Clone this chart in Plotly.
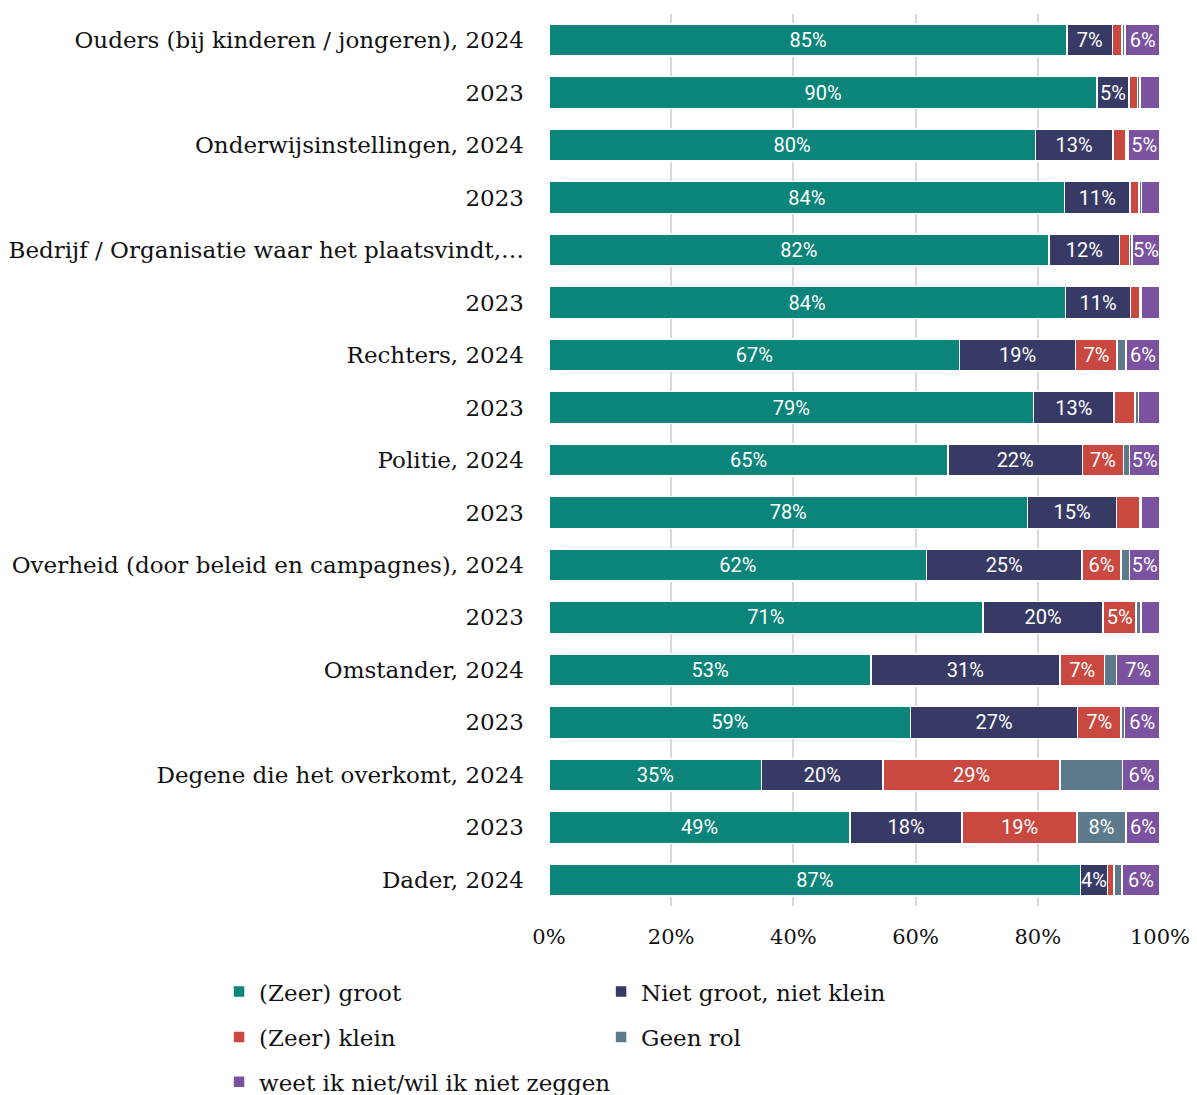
import plotly.graph_objects as go

categories = [
    "Ouders (bij kinderen / jongeren), 2024", "2023",
    "Onderwijsinstellingen, 2024", "2023",
    "Bedrijf / Organisatie waar het plaatsvindt,…", "2023",
    "Rechters, 2024", "2023",
    "Politie, 2024", "2023",
    "Overheid (door beleid en campagnes), 2024", "2023",
    "Omstander, 2024", "2023",
    "Degene die het overkomt, 2024", "2023",
    "Dader, 2024",
]

zeer_groot = [84.8, 89.7, 79.6, 84.4, 81.8, 84.5, 67.2, 79.3, 65.3, 78.3, 61.8, 71.0, 52.7, 59.2, 34.8, 49.3, 87.0]
niet_groot = [7.4, 5.2, 12.7, 10.7, 11.6, 10.7, 19.0, 13.2, 22.0, 14.6, 25.4, 19.7, 30.9, 27.3, 19.9, 18.3, 4.4]
zeer_klein = [1.6, 1.4, 2.1, 1.5, 1.6, 1.5, 6.8, 3.4, 6.7, 3.8, 6.4, 5.4, 7.3, 7.1, 28.9, 18.8, 1.1]
geen_rol = [0.5, 0.4, 0.4, 0.4, 0.4, 0.3, 1.4, 0.6, 1.0, 0.3, 1.4, 0.8, 2.0, 0.6, 10.3, 8.0, 1.3]
weet_niet = [5.7, 3.3, 5.2, 3.0, 4.6, 3.0, 5.6, 3.5, 5.0, 3.0, 5.0, 3.1, 7.1, 5.8, 6.1, 5.6, 6.2]

# name, values, colour, legend row
series = [
    ("(Zeer) groot", zeer_groot, "#0b857a", "legend"),
    ("Niet groot, niet klein", niet_groot, "#383a66", "legend"),
    ("(Zeer) klein", zeer_klein, "#c9483f", "legend2"),
    ("Geen rol", geen_rol, "#5c7a8c", "legend2"),
    ("weet ik niet/wil ik niet zeggen", weet_niet, "#7b52a0", "legend3"),
]

# the 10% "Geen rol" segment of "Degene die het overkomt, 2024" carries no label in the original
unlabelled = {("Geen rol", 14)}

rows = list(range(len(categories)))

fig = go.Figure()
for name, vals, color, leg in series:
    text = [
        f"{v:.0f}%" if v >= 4 and (name, i) not in unlabelled else ""
        for i, v in enumerate(vals)
    ]
    fig.add_trace(go.Bar(
        y=rows, x=vals, name=name, orientation="h", legend=leg,
        marker=dict(color=color, line=dict(color="white", width=1.5)),
        text=text, textposition="inside", insidetextanchor="middle",
        textangle=0, constraintext="none", cliponaxis=False,
        textfont=dict(family="Roboto", size=20, color="white"),
        hoverinfo="skip",
    ))

legend_style = dict(
    orientation="h", xanchor="left", yanchor="middle",
    font=dict(family="DejaVu Serif", size=23, color="#111111"),
    bgcolor="rgba(0,0,0,0)", itemwidth=30, traceorder="normal",
)
# the page body has an 8px margin, so the figure is 8px smaller than the window
fig.update_layout(
    barmode="stack",
    bargap=0.39,
    width=1189, height=1087,
    margin=dict(l=541, r=37, t=6, b=189, autoexpand=False),
    plot_bgcolor="white", paper_bgcolor="white",
    font=dict(family="DejaVu Serif", size=22, color="#111111"),
    uniformtext=dict(mode="show", minsize=20),
    legend=dict(x=-0.54, y=-0.096, entrywidth=337, **legend_style),
    legend2=dict(x=-0.54, y=-0.147, entrywidth=337, **legend_style),
    legend3=dict(x=-0.54, y=-0.197, entrywidth=440, **legend_style),
)
fig.update_xaxes(
    range=[0, 100], tickvals=[0, 20, 40, 60, 80, 100],
    ticktext=["0%", "20%", "40%", "60%", "80%", "100%"],
    showgrid=True, gridcolor="#d9d9d9", gridwidth=2, zeroline=False,
    ticklabelstandoff=16, automargin=False, tickfont=dict(size=21),
)
fig.update_yaxes(
    tickvals=rows, ticktext=categories, autorange="reversed",
    showgrid=False, zeroline=False, ticklabelstandoff=24, automargin=False,
    tickfont=dict(size=23),
)

fig.write_html("out.html")
